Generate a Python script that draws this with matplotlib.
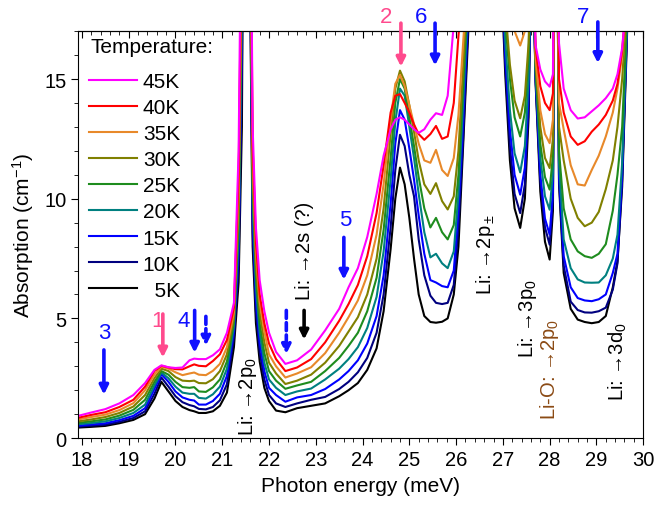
import matplotlib
matplotlib.use('Agg')
import matplotlib.pyplot as plt
from matplotlib.ticker import MultipleLocator

plt.rcParams['font.family'] = ['Liberation Sans', 'DejaVu Sans']
plt.rcParams['mathtext.fontset'] = 'custom'
plt.rcParams['mathtext.rm'] = 'Liberation Sans'
plt.rcParams['mathtext.it'] = 'Liberation Sans:italic'
plt.rcParams['font.size'] = 14.5

# photon energy grid (meV), values above 17 are off scale (clipped)
energy = [17.92, 18.2, 18.5, 18.8, 19.1, 19.35, 19.55, 19.7, 19.85, 20.0,
          20.15, 20.3, 20.4, 20.5, 20.65, 20.8, 20.95, 21.1, 21.25, 21.35,
          21.42, 21.5, 21.58, 21.65, 21.72, 21.8, 21.9, 22.0, 22.15, 22.35,
          22.6, 22.9, 23.2, 23.5, 23.7, 23.9, 24.1, 24.3, 24.45, 24.6,
          24.7, 24.8, 24.9, 25.0, 25.1, 25.2, 25.32, 25.45, 25.57, 25.7,
          25.82, 25.95, 26.05, 26.15, 26.25, 26.35, 26.65, 26.95, 27.05, 27.15,
          27.25, 27.37, 27.47, 27.55, 27.62, 27.7, 27.8, 27.9, 28.0, 28.07,
          28.13, 28.2, 28.3, 28.45, 28.6, 28.75, 28.9, 29.05, 29.2, 29.35,
          29.45, 29.55, 29.65, 29.75, 30.0]

abs_45K = [0.93, 1.07, 1.21, 1.45, 1.80, 2.3, 2.85, 3.04, 2.96, 2.93,
           2.95, 3.25, 3.32, 3.3, 3.3, 3.46, 3.71, 4.4, 5.65, 12,
           25, 40, 30, 13, 8.8, 6.6, 5.3, 4.4, 3.6, 3.1,
           3.25, 3.7, 4.5, 5.4, 6.3, 7.1, 8.4, 10.2, 11.8, 12.9,
           13.3, 13.4, 13.3, 13.1, 12.9, 12.75, 12.9, 13.3, 13.57, 13.5,
           14.3, 17.3, 20, 22, 23, 25, 40, 22, 22, 21,
           20.3, 20, 20.3, 21, 22, 16.4, 15.4, 14.9, 14.68, 15.2,
           30, 16.5, 14.6, 13.7, 13.35, 13.4, 13.65, 13.9, 14.2, 14.6,
           15.2, 16.3, 18.5, 25, 40]
abs_40K = [0.85, 0.97, 1.08, 1.30, 1.60, 2.15, 2.8, 3.02, 2.95, 2.88,
           2.87, 3.0, 3.08, 3.02, 3.0, 3.22, 3.5, 4.1, 5.45, 11,
           22, 40, 29, 12.2, 8.2, 6.0, 4.8, 3.95, 3.3, 2.8,
           2.95, 3.3, 4.0, 4.9, 5.6, 6.4, 7.6, 9.4, 11.4, 13.6,
           14.3, 14.37, 14.0, 13.6, 13.1, 12.7, 12.46, 12.7, 13.04, 12.5,
           12.6, 14, 16.8, 19, 21, 24, 40, 22, 21, 19.5,
           18.6, 18.2, 18.6, 20, 22, 16.3, 14.7, 14.0, 13.7, 14.4,
           30, 15, 13.6, 12.6, 12.25, 12.4, 12.8, 13.1, 13.5, 14.1,
           14.8, 16.2, 18.5, 25, 40]
abs_35K = [0.78, 0.88, 0.98, 1.17, 1.46, 2.0, 2.65, 2.98, 2.9, 2.75,
           2.63, 2.7, 2.74, 2.65, 2.63, 2.81, 3.1, 3.8, 5.25, 10.3,
           21, 40, 28, 11.6, 7.8, 5.7, 4.45, 3.5, 3.0, 2.53,
           2.7, 2.96, 3.55, 4.4, 5.05, 5.75, 6.8, 8.5, 10.6, 13.3,
           14.8, 15.17, 14.7, 13.9, 13.1, 12.3, 11.6, 11.5, 12.04, 11.2,
           10.95, 11.7, 13.5, 16.5, 19.5, 23, 40, 22, 20, 18.2,
           17.0, 16.4, 17.0, 18.5, 22, 15.9, 13.7, 12.7, 12.32, 13.3,
           30, 14, 12.9, 11.4, 10.6, 10.55, 11.2, 11.8, 12.6, 13.6,
           14.6, 16, 18.5, 25, 40]
abs_30K = [0.70, 0.78, 0.88, 1.05, 1.32, 1.8, 2.5, 2.9, 2.8, 2.55,
           2.4, 2.38, 2.40, 2.3, 2.29, 2.46, 2.8, 3.5, 5.05, 9.6,
           20, 40, 27, 11.0, 7.3, 5.25, 4.0, 3.15, 2.7, 2.26,
           2.4, 2.65, 3.15, 3.85, 4.45, 5.05, 6.0, 7.5, 9.6, 12.7,
           14.6, 15.35, 14.9, 13.9, 12.8, 11.6, 10.6, 10.2, 10.65, 9.9,
           9.55, 10.1, 12, 15.5, 19, 23, 40, 22, 18, 15.6,
           14.1, 13.36, 14.3, 16.5, 22, 15.7, 13.0, 11.7, 11.28, 12.5,
           30, 13, 11.6, 10.0, 9.2, 8.85, 9.0, 9.45, 10.4, 11.6,
           13, 15, 18, 25, 40]
abs_25K = [0.64, 0.70, 0.78, 0.94, 1.18, 1.6, 2.35, 2.80, 2.65, 2.35,
           2.13, 2.1, 2.13, 1.95, 1.93, 2.12, 2.45, 3.2, 4.85, 9.0,
           19, 40, 26, 10.4, 6.8, 4.8, 3.55, 2.8, 2.4, 2.06,
           2.2, 2.35, 2.8, 3.35, 3.85, 4.4, 5.3, 6.7, 8.7, 11.7,
           14.0, 15.0, 14.6, 13.4, 12.2, 10.9, 9.6, 8.8, 9.2, 8.6,
           8.3, 8.9, 11, 14.8, 18.5, 23, 40, 21, 17.5, 15.0,
           13.4, 12.6, 13.6, 16.0, 22, 15.4, 12.3, 10.9, 10.38, 11.8,
           30, 12, 9.6, 8.3, 7.8, 7.6, 7.53, 7.7, 8.1, 9.5,
           11, 13, 17.5, 25, 40]
abs_20K = [0.58, 0.63, 0.70, 0.84, 1.05, 1.4, 2.2, 2.74, 2.5, 2.15,
           1.9, 1.85, 1.85, 1.68, 1.65, 1.83, 2.15, 2.9, 4.65, 8.4,
           18, 40, 25, 9.8, 6.3, 4.4, 3.15, 2.45, 2.1, 1.8,
           1.95, 2.07, 2.45, 2.9, 3.3, 3.8, 4.6, 5.9, 7.8, 10.8,
           13.2, 14.6, 14.3, 13.0, 11.7, 10.2, 8.6, 7.55, 7.7, 7.3,
           7.1, 7.8, 10.2, 14, 18, 23, 40, 21, 16.6, 13.7,
           11.9, 11.1, 12.2, 15.0, 22, 15.2, 11.7, 10.1, 9.54, 11.1,
           30, 11.5, 8.3, 7.1, 6.63, 6.5, 6.49, 6.5, 6.8, 7.5,
           8.5, 11.5, 17.2, 25, 40]
abs_15K = [0.52, 0.57, 0.62, 0.75, 0.93, 1.25, 2.05, 2.67, 2.35, 1.95,
           1.7, 1.6, 1.57, 1.4, 1.4, 1.55, 1.85, 2.6, 4.45, 7.8,
           17, 40, 24, 9.2, 5.8, 4.0, 2.8, 2.1, 1.8, 1.52,
           1.7, 1.8, 2.05, 2.45, 2.8, 3.25, 3.95, 5.1, 6.8, 9.8,
           12.3, 13.7, 13.3, 12.1, 10.8, 9.3, 7.7, 6.6, 6.5, 6.35,
           6.3, 7.0, 9.5, 13.2, 17.5, 22, 40, 21, 16.0, 12.9,
           11.0, 10.17, 11.3, 14.4, 22, 15.0, 11.0, 9.17, 8.5, 10.3,
           30, 11.0, 7.6, 6.3, 5.85, 5.75, 5.72, 5.8, 6.0, 6.9,
           7.7, 11, 17, 25, 40]
abs_10K = [0.48, 0.52, 0.56, 0.68, 0.84, 1.12, 1.85, 2.53, 2.15, 1.75,
           1.5, 1.38, 1.33, 1.22, 1.2, 1.3, 1.58, 2.25, 4.2, 7.2,
           15, 40, 23, 8.6, 5.3, 3.6, 2.45, 1.8, 1.45, 1.3,
           1.45, 1.6, 1.72, 2.05, 2.35, 2.75, 3.35, 4.4, 6.0, 8.8,
           11.2, 12.67, 12.2, 11.0, 10.1, 8.3, 6.8, 5.95, 5.65, 5.6,
           5.65, 6.4, 8.8, 12.5, 17, 22, 40, 21, 15.6, 12.2,
           10.2, 9.4, 10.6, 13.9, 22, 14.9, 10.7, 8.8, 8.08, 9.95,
           30, 10.8, 7.2, 5.7, 5.35, 5.25, 5.24, 5.3, 5.45, 6.2,
           7.3, 10.8, 16.8, 25, 40]
abs_5K = [0.44, 0.47, 0.51, 0.62, 0.76, 1.0, 1.65, 2.35, 1.95, 1.55,
          1.3, 1.17, 1.12, 1.05, 1.05, 1.12, 1.35, 1.9, 3.8, 6.5,
          13, 40, 22, 8.0, 4.8, 3.2, 2.1, 1.55, 1.15, 1.08,
          1.25, 1.35, 1.45, 1.75, 2.0, 2.3, 2.85, 3.75, 5.3, 7.9,
          10.0, 11.3, 10.6, 9.2, 7.5, 6.0, 5.1, 4.85, 4.82, 4.86,
          5.0, 6.0, 8.0, 12.2, 16.5, 21, 40, 20, 15.2, 11.6,
          9.6, 8.78, 10.0, 13.4, 22, 14.8, 10.3, 8.2, 7.46, 9.5,
          30, 10.6, 6.9, 5.4, 4.95, 4.85, 4.8, 4.85, 5.1, 6.3,
          7.4, 10.5, 16.5, 25, 40]

labels = ['45K', '40K', '35K', '30K', '25K', '20K', '15K', '10K', '  5K']
colors = ['#ff00ff', '#ff0000', '#e8892a', '#808000', '#1e8c1e',
          '#008080', '#0000ff', '#00007f', '#000000']
series = [abs_45K, abs_40K, abs_35K, abs_30K, abs_25K,
          abs_20K, abs_15K, abs_10K, abs_5K]

fig = plt.figure(figsize=(6.57, 5.10), dpi=100)
ax = fig.add_axes([0.119, 0.139, 0.860, 0.798])

# draw low temperatures last so the black curve is on top
for y, c, lab in reversed(list(zip(series, colors, labels))):
    ax.plot(energy, y, color=c, lw=1.5, label=lab)

ax.set_xlim(17.92, 30.0)
ax.set_ylim(0, 17)
ax.xaxis.set_major_locator(MultipleLocator(1))
ax.xaxis.set_minor_locator(MultipleLocator(0.2))
ax.yaxis.set_major_locator(MultipleLocator(5))
ax.yaxis.set_minor_locator(MultipleLocator(1))
ax.tick_params(which='both', direction='out', top=False, right=False, labelsize=14.5)
ax.tick_params(which='major', length=5)
ax.tick_params(which='minor', length=3)
ax.set_xlabel('Photon energy (meV)', fontsize=15, labelpad=5)
ax.set_ylabel('Absorption (cm$^{\\mathregular{-1}}$)', fontsize=15, labelpad=6)

# ticks pointing inward on the top spine
top = ax.secondary_xaxis('top')
top.xaxis.set_major_locator(MultipleLocator(1))
top.xaxis.set_minor_locator(MultipleLocator(0.2))
top.tick_params(which='both', direction='in', labeltop=False)
top.tick_params(which='major', length=5)
top.tick_params(which='minor', length=3)

handles, labs = ax.get_legend_handles_labels()
ax.legend(handles[::-1], labs[::-1], loc='upper left', bbox_to_anchor=(0.0, 0.925),
          frameon=False, fontsize=15, handlelength=2.3, handletextpad=0.3,
          labelspacing=0.34, borderaxespad=0.2, borderpad=0.3)
ax.text(0.021, 0.962, 'Temperature:', transform=ax.transAxes, fontsize=15,
        ha='left', va='center')

pink = '#ff4a8d'
blue = '#1010ff'


def arrow(x, y0, y1, color, dashed=False):
    ax.annotate('', xy=(x, y1), xytext=(x, y0), annotation_clip=False,
                arrowprops=dict(arrowstyle='-|>', color=color, lw=2.6,
                                mutation_scale=13,
                                linestyle=(0, (2.2, 1.2)) if dashed else '-'))


arrow(18.47, 3.8, 1.7, blue)
ax.text(18.47, 4.4, '3', color=blue, ha='center', va='center', fontsize=16)
arrow(19.73, 5.3, 3.25, pink)
ax.text(19.62, 4.9, '1', color=pink, ha='center', va='center', fontsize=16)
arrow(20.41, 5.45, 3.45, blue)
ax.text(20.18, 4.9, '4', color=blue, ha='center', va='center', fontsize=16)
arrow(20.65, 5.2, 3.75, blue, dashed=True)
arrow(22.37, 5.45, 3.4, blue, dashed=True)
arrow(22.75, 5.45, 4.0, 'black')
arrow(23.6, 8.5, 6.5, blue)
ax.text(23.62, 9.15, '5', color=blue, ha='center', va='center', fontsize=16)
arrow(24.82, 17.45, 15.4, pink)
ax.text(24.5, 17.6, '2', color=pink, ha='center', va='center', fontsize=16)
arrow(25.55, 17.45, 15.45, blue)
ax.text(25.24, 17.6, '6', color=blue, ha='center', va='center', fontsize=16)
arrow(29.03, 17.5, 15.55, blue)
ax.text(28.71, 17.6, '7', color=blue, ha='center', va='center', fontsize=16)

ax.text(21.53, 0.12, 'Li: \u21922p$_\\mathregular{0}$', rotation=90, ha='center', va='bottom')
ax.text(22.75, 5.8, 'Li: \u21922s (?)', rotation=90, ha='center', va='bottom')
ax.text(26.63, 6.0, 'Li: \u21922p$_\\pm$', rotation=90, ha='center', va='bottom')
ax.text(27.53, 3.4, 'Li: \u21923p$_\\mathregular{0}$', rotation=90, ha='center', va='bottom')
ax.text(27.99, 0.8, 'Li-O: \u21922p$_\\mathregular{0}$', rotation=90, ha='center',
        va='bottom', color='#8b4a14')
ax.text(29.46, 1.6, 'Li: \u21923d$_\\mathregular{0}$', rotation=90, ha='center', va='bottom')

fig.savefig('out.png', dpi=100)
